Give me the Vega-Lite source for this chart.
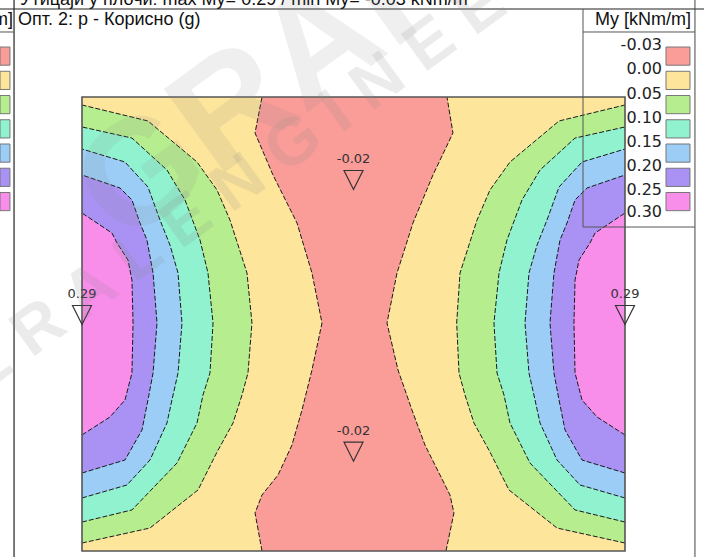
{
  "$schema": "https://vega.github.io/schema/vega-lite/v6.json",
  "width": 543,
  "height": 454,
  "autosize": {"type": "none"},
  "padding": {"left": 82, "top": 97, "right": 79, "bottom": 6},
  "background": "white",
  "config": {"view": {"stroke": null}, "axis": {"disable": true}, "legend": {"disable": true}},
  "datasets": {
    "contours": [
      {"s":"L","lv":0.05,"X":0,"Y":4.912},{"s":"L","lv":0.05,"X":0.729,"Y":4.736},{"s":"L","lv":0.05,"X":1.271,"Y":4.284},{"s":"L","lv":0.05,"X":1.492,"Y":3.976},{"s":"L","lv":0.05,"X":1.635,"Y":3.645},{"s":"L","lv":0.05,"X":1.724,"Y":3.370},{"s":"L","lv":0.05,"X":1.823,"Y":3.062},{"s":"L","lv":0.05,"X":1.878,"Y":2.511},{"s":"L","lv":0.05,"X":1.834,"Y":1.960},{"s":"L","lv":0.05,"X":1.768,"Y":1.718},{"s":"L","lv":0.05,"X":1.669,"Y":1.410},{"s":"L","lv":0.05,"X":1.492,"Y":1.090},{"s":"L","lv":0.05,"X":1.282,"Y":0.672},{"s":"L","lv":0.05,"X":0.751,"Y":0.253},{"s":"L","lv":0.05,"X":0,"Y":0.088},
      {"s":"L","lv":0.10,"X":0,"Y":4.670},{"s":"L","lv":0.10,"X":0.552,"Y":4.548},{"s":"L","lv":0.10,"X":0.939,"Y":4.196},{"s":"L","lv":0.10,"X":1.138,"Y":3.866},{"s":"L","lv":0.10,"X":1.304,"Y":3.425},{"s":"L","lv":0.10,"X":1.392,"Y":3.062},{"s":"L","lv":0.10,"X":1.448,"Y":2.511},{"s":"L","lv":0.10,"X":1.414,"Y":1.960},{"s":"L","lv":0.10,"X":1.337,"Y":1.718},{"s":"L","lv":0.10,"X":1.271,"Y":1.410},{"s":"L","lv":0.10,"X":1.050,"Y":0.969},{"s":"L","lv":0.10,"X":0.552,"Y":0.452},{"s":"L","lv":0.10,"X":0,"Y":0.319},
      {"s":"L","lv":0.15,"X":0,"Y":4.427},{"s":"L","lv":0.15,"X":0.475,"Y":4.284},{"s":"L","lv":0.15,"X":0.729,"Y":4.009},{"s":"L","lv":0.15,"X":0.862,"Y":3.645},{"s":"L","lv":0.15,"X":0.972,"Y":3.370},{"s":"L","lv":0.15,"X":1.061,"Y":3.062},{"s":"L","lv":0.15,"X":1.105,"Y":2.511},{"s":"L","lv":0.15,"X":1.061,"Y":1.960},{"s":"L","lv":0.15,"X":0.994,"Y":1.663},{"s":"L","lv":0.15,"X":0.939,"Y":1.410},{"s":"L","lv":0.15,"X":0.751,"Y":1.002},{"s":"L","lv":0.15,"X":0.497,"Y":0.727},{"s":"L","lv":0.15,"X":0,"Y":0.584},
      {"s":"L","lv":0.20,"X":0,"Y":4.141},{"s":"L","lv":0.20,"X":0.420,"Y":3.998},{"s":"L","lv":0.20,"X":0.552,"Y":3.866},{"s":"L","lv":0.20,"X":0.641,"Y":3.612},{"s":"L","lv":0.20,"X":0.718,"Y":3.425},{"s":"L","lv":0.20,"X":0.785,"Y":3.062},{"s":"L","lv":0.20,"X":0.829,"Y":2.511},{"s":"L","lv":0.20,"X":0.785,"Y":1.960},{"s":"L","lv":0.20,"X":0.729,"Y":1.663},{"s":"L","lv":0.20,"X":0.663,"Y":1.333},{"s":"L","lv":0.20,"X":0.475,"Y":1.002},{"s":"L","lv":0.20,"X":0,"Y":0.859},
      {"s":"L","lv":0.25,"X":0,"Y":3.722},{"s":"L","lv":0.25,"X":0.331,"Y":3.502},{"s":"L","lv":0.25,"X":0.387,"Y":3.392},{"s":"L","lv":0.25,"X":0.508,"Y":3.205},{"s":"L","lv":0.25,"X":0.552,"Y":2.985},{"s":"L","lv":0.25,"X":0.564,"Y":2.511},{"s":"L","lv":0.25,"X":0.552,"Y":1.960},{"s":"L","lv":0.25,"X":0.475,"Y":1.663},{"s":"L","lv":0.25,"X":0.309,"Y":1.476},{"s":"L","lv":0.25,"X":0,"Y":1.278},
      {"s":"R","lv":0.05,"X":6,"Y":4.912},{"s":"R","lv":0.05,"X":5.271,"Y":4.736},{"s":"R","lv":0.05,"X":4.729,"Y":4.284},{"s":"R","lv":0.05,"X":4.508,"Y":3.976},{"s":"R","lv":0.05,"X":4.365,"Y":3.645},{"s":"R","lv":0.05,"X":4.276,"Y":3.370},{"s":"R","lv":0.05,"X":4.177,"Y":3.062},{"s":"R","lv":0.05,"X":4.140,"Y":2.511},{"s":"R","lv":0.05,"X":4.166,"Y":1.960},{"s":"R","lv":0.05,"X":4.232,"Y":1.718},{"s":"R","lv":0.05,"X":4.331,"Y":1.410},{"s":"R","lv":0.05,"X":4.508,"Y":1.090},{"s":"R","lv":0.05,"X":4.718,"Y":0.672},{"s":"R","lv":0.05,"X":5.249,"Y":0.253},{"s":"R","lv":0.05,"X":6,"Y":0.088},
      {"s":"R","lv":0.10,"X":6,"Y":4.670},{"s":"R","lv":0.10,"X":5.448,"Y":4.548},{"s":"R","lv":0.10,"X":5.061,"Y":4.196},{"s":"R","lv":0.10,"X":4.862,"Y":3.866},{"s":"R","lv":0.10,"X":4.696,"Y":3.425},{"s":"R","lv":0.10,"X":4.608,"Y":3.062},{"s":"R","lv":0.10,"X":4.552,"Y":2.511},{"s":"R","lv":0.10,"X":4.586,"Y":1.960},{"s":"R","lv":0.10,"X":4.663,"Y":1.718},{"s":"R","lv":0.10,"X":4.729,"Y":1.410},{"s":"R","lv":0.10,"X":4.950,"Y":0.969},{"s":"R","lv":0.10,"X":5.448,"Y":0.452},{"s":"R","lv":0.10,"X":6,"Y":0.319},
      {"s":"R","lv":0.15,"X":6,"Y":4.427},{"s":"R","lv":0.15,"X":5.525,"Y":4.284},{"s":"R","lv":0.15,"X":5.271,"Y":4.009},{"s":"R","lv":0.15,"X":5.138,"Y":3.645},{"s":"R","lv":0.15,"X":5.028,"Y":3.370},{"s":"R","lv":0.15,"X":4.939,"Y":3.062},{"s":"R","lv":0.15,"X":4.895,"Y":2.511},{"s":"R","lv":0.15,"X":4.939,"Y":1.960},{"s":"R","lv":0.15,"X":5.006,"Y":1.663},{"s":"R","lv":0.15,"X":5.061,"Y":1.410},{"s":"R","lv":0.15,"X":5.249,"Y":1.002},{"s":"R","lv":0.15,"X":5.503,"Y":0.727},{"s":"R","lv":0.15,"X":6,"Y":0.584},
      {"s":"R","lv":0.20,"X":6,"Y":4.141},{"s":"R","lv":0.20,"X":5.580,"Y":3.998},{"s":"R","lv":0.20,"X":5.448,"Y":3.866},{"s":"R","lv":0.20,"X":5.359,"Y":3.612},{"s":"R","lv":0.20,"X":5.282,"Y":3.425},{"s":"R","lv":0.20,"X":5.215,"Y":3.062},{"s":"R","lv":0.20,"X":5.171,"Y":2.511},{"s":"R","lv":0.20,"X":5.215,"Y":1.960},{"s":"R","lv":0.20,"X":5.271,"Y":1.663},{"s":"R","lv":0.20,"X":5.337,"Y":1.333},{"s":"R","lv":0.20,"X":5.525,"Y":1.002},{"s":"R","lv":0.20,"X":6,"Y":0.859},
      {"s":"R","lv":0.25,"X":6,"Y":3.722},{"s":"R","lv":0.25,"X":5.669,"Y":3.502},{"s":"R","lv":0.25,"X":5.613,"Y":3.392},{"s":"R","lv":0.25,"X":5.492,"Y":3.205},{"s":"R","lv":0.25,"X":5.448,"Y":2.985},{"s":"R","lv":0.25,"X":5.436,"Y":2.511},{"s":"R","lv":0.25,"X":5.448,"Y":1.960},{"s":"R","lv":0.25,"X":5.525,"Y":1.663},{"s":"R","lv":0.25,"X":5.691,"Y":1.476},{"s":"R","lv":0.25,"X":6,"Y":1.278}
    ],
    "red": [
      {"Y":5.0,"xl":1.989,"xr":4.033},{"Y":4.604,"xl":1.912,"xr":4.099},{"Y":4.141,"xl":2.110,"xr":3.878},{"Y":3.612,"xl":2.376,"xr":3.657},{"Y":3.062,"xl":2.541,"xr":3.481},{"Y":2.511,"xl":2.652,"xr":3.370},{"Y":1.993,"xl":2.541,"xr":3.492},{"Y":1.553,"xl":2.431,"xr":3.646},{"Y":1.167,"xl":2.320,"xr":3.790},{"Y":0.837,"xl":2.166,"xr":3.956},{"Y":0.617,"xl":1.989,"xr":4.066},{"Y":0.419,"xl":1.912,"xr":4.110},{"Y":0,"xl":1.989,"xr":4.022}
    ],
    "markers": [
      {"X":3.0,"Y":4.086,"v":"-0.02"},{"X":3.0,"Y":1.094,"v":"-0.02"},{"X":0,"Y":2.599,"v":"0.29"},{"X":6,"Y":2.599,"v":"0.29"}
    ],
    "legend": [
      {"t":"-0.03","lo":-0.03,"t2":"0.00"},{"t":"0.00","lo":0,"t2":"0.05"},{"t":"0.05","lo":0.05,"t2":"0.10"},{"t":"0.10","lo":0.10,"t2":"0.15"},{"t":"0.15","lo":0.15,"t2":"0.20"},{"t":"0.20","lo":0.20,"t2":"0.25"},{"t":"0.25","lo":0.25,"t2":"0.30"}
    ]
  },
  "layer": [
    {
      "layer": [
        {
          "data": {"values": [{}]},
          "mark": {"type": "rect", "color": "#FDE59B"},
          "encoding": {
            "x": {"datum": 0, "type": "quantitative", "scale": {"domain": [0, 6], "nice": false, "zero": false}},
            "x2": {"datum": 6},
            "y": {"datum": 0, "type": "quantitative", "scale": {"domain": [0, 5], "nice": false, "zero": false}},
            "y2": {"datum": 5}
          }
        },
        {
          "data": {"name": "contours"},
          "transform": [{"filter": "datum.s === 'L'"}],
          "mark": {"type": "area", "orient": "horizontal", "opacity": 1},
          "encoding": {
            "y": {"field": "Y", "type": "quantitative", "scale": {"domain": [0, 5], "nice": false, "zero": false}},
            "x": {"field": "X", "type": "quantitative", "stack": null, "scale": {"domain": [0, 6], "nice": false, "zero": false}},
            "x2": {"datum": 0},
            "color": {"field": "lv", "type": "quantitative", "scale": {"type": "threshold", "domain": [0, 0.05, 0.1, 0.15, 0.2, 0.25], "range": ["#FA9C98", "#FDE59B", "#B6EE8F", "#90F2CF", "#9BCDF7", "#A992F3", "#F98DEA"]}}
          }
        },
        {
          "data": {"name": "contours"},
          "transform": [{"filter": "datum.s === 'R'"}],
          "mark": {"type": "area", "orient": "horizontal", "opacity": 1},
          "encoding": {
            "y": {"field": "Y", "type": "quantitative", "scale": {"domain": [0, 5], "nice": false, "zero": false}},
            "x": {"field": "X", "type": "quantitative", "stack": null, "scale": {"domain": [0, 6], "nice": false, "zero": false}},
            "x2": {"datum": 6},
            "color": {"field": "lv", "type": "quantitative", "scale": {"type": "threshold", "domain": [0, 0.05, 0.1, 0.15, 0.2, 0.25], "range": ["#FA9C98", "#FDE59B", "#B6EE8F", "#90F2CF", "#9BCDF7", "#A992F3", "#F98DEA"]}}
          }
        },
        {
          "data": {"name": "red"},
          "mark": {"type": "area", "orient": "horizontal", "color": "#FA9C98", "opacity": 1},
          "encoding": {
            "y": {"field": "Y", "type": "quantitative", "scale": {"domain": [0, 5], "nice": false, "zero": false}},
            "x": {"field": "xl", "type": "quantitative", "stack": null, "scale": {"domain": [0, 6], "nice": false, "zero": false}},
            "x2": {"field": "xr"}
          }
        },
        {
          "data": {"name": "contours"},
          "mark": {"type": "line", "color": "#1a1a1a", "strokeWidth": 1, "strokeDash": [5, 2]},
          "encoding": {
            "y": {"field": "Y", "type": "quantitative", "scale": {"domain": [0, 5], "nice": false, "zero": false}},
            "x": {"field": "X", "type": "quantitative", "scale": {"domain": [0, 6], "nice": false, "zero": false}},
            "detail": [{"field": "s"}, {"field": "lv"}],
            "order": {"field": "Y", "type": "quantitative"}
          }
        },
        {
          "data": {"name": "red"},
          "mark": {"type": "line", "color": "#1a1a1a", "strokeWidth": 1, "strokeDash": [5, 2]},
          "encoding": {
            "y": {"field": "Y", "type": "quantitative", "scale": {"domain": [0, 5], "nice": false, "zero": false}},
            "x": {"field": "xl", "type": "quantitative", "scale": {"domain": [0, 6], "nice": false, "zero": false}},
            "order": {"field": "Y", "type": "quantitative"}
          }
        },
        {
          "data": {"name": "red"},
          "mark": {"type": "line", "color": "#1a1a1a", "strokeWidth": 1, "strokeDash": [5, 2]},
          "encoding": {
            "y": {"field": "Y", "type": "quantitative", "scale": {"domain": [0, 5], "nice": false, "zero": false}},
            "x": {"field": "xr", "type": "quantitative", "scale": {"domain": [0, 6], "nice": false, "zero": false}},
            "order": {"field": "Y", "type": "quantitative"}
          }
        },
        {
          "data": {"values": [{}]},
          "mark": {"type": "rect", "fillOpacity": 0, "stroke": "#555555", "strokeWidth": 1.6},
          "encoding": {
            "x": {"datum": 0, "type": "quantitative", "scale": {"domain": [0, 6], "nice": false, "zero": false}},
            "x2": {"datum": 6},
            "y": {"datum": 0, "type": "quantitative", "scale": {"domain": [0, 5], "nice": false, "zero": false}},
            "y2": {"datum": 5}
          }
        },
        {
          "data": {"name": "markers"},
          "mark": {"type": "point", "shape": "M-1,-1L1,-1L0,1Z", "size": 361, "filled": false, "stroke": "#333333", "strokeWidth": 1.2, "opacity": 1},
          "encoding": {
            "y": {"field": "Y", "type": "quantitative", "scale": {"domain": [0, 5], "nice": false, "zero": false}},
            "x": {"field": "X", "type": "quantitative", "scale": {"domain": [0, 6], "nice": false, "zero": false}}
          }
        },
        {
          "data": {"name": "markers"},
          "mark": {"type": "text", "font": "DejaVu Sans", "fontSize": 13, "color": "#333333", "baseline": "middle", "align": "center", "dy": -21},
          "encoding": {
            "y": {"field": "Y", "type": "quantitative", "scale": {"domain": [0, 5], "nice": false, "zero": false}},
            "x": {"field": "X", "type": "quantitative", "scale": {"domain": [0, 6], "nice": false, "zero": false}},
            "text": {"field": "v"}
          }
        },
        {
          "data": {"values": [{}]},
          "mark": {"type": "rule", "color": "#222222", "strokeWidth": 1.2},
          "encoding": {
            "x": {"datum": -0.906, "type": "quantitative", "scale": {"domain": [0, 6], "nice": false, "zero": false}},
            "x2": {"datum": 6.873},
            "y": {"datum": 5.969, "type": "quantitative", "scale": {"domain": [0, 5], "nice": false, "zero": false}}
          }
        },
        {
          "data": {"values": [{}]},
          "mark": {"type": "rule", "color": "#222222", "strokeWidth": 1.2},
          "encoding": {
            "x": {"datum": -0.751, "type": "quantitative", "scale": {"domain": [0, 6], "nice": false, "zero": false}},
            "y": {"datum": 6.068, "type": "quantitative", "scale": {"domain": [0, 5], "nice": false, "zero": false}},
            "y2": {"datum": -0.066}
          }
        },
        {
          "data": {"values": [{}]},
          "mark": {"type": "rule", "color": "#444444", "strokeWidth": 1},
          "encoding": {
            "x": {"datum": 6.773, "type": "quantitative", "scale": {"domain": [0, 6], "nice": false, "zero": false}},
            "y": {"datum": 6.068, "type": "quantitative", "scale": {"domain": [0, 5], "nice": false, "zero": false}},
            "y2": {"datum": -0.066}
          }
        },
        {
          "data": {"values": [{}]},
          "mark": {"type": "rule", "color": "#555555", "strokeWidth": 1},
          "encoding": {
            "x": {"datum": 5.536, "type": "quantitative", "scale": {"domain": [0, 6], "nice": false, "zero": false}},
            "y": {"datum": 5.969, "type": "quantitative", "scale": {"domain": [0, 5], "nice": false, "zero": false}},
            "y2": {"datum": 3.568}
          }
        },
        {
          "data": {"values": [{}]},
          "mark": {"type": "rule", "color": "#555555", "strokeWidth": 1},
          "encoding": {
            "x": {"datum": 5.536, "type": "quantitative", "scale": {"domain": [0, 6], "nice": false, "zero": false}},
            "x2": {"datum": 6.773},
            "y": {"datum": 5.716, "type": "quantitative", "scale": {"domain": [0, 5], "nice": false, "zero": false}}
          }
        },
        {
          "data": {"values": [{}]},
          "mark": {"type": "rule", "color": "#555555", "strokeWidth": 1},
          "encoding": {
            "x": {"datum": 5.536, "type": "quantitative", "scale": {"domain": [0, 6], "nice": false, "zero": false}},
            "x2": {"datum": 6.773},
            "y": {"datum": 3.568, "type": "quantitative", "scale": {"domain": [0, 5], "nice": false, "zero": false}}
          }
        },
        {
          "data": {"values": [{}]},
          "mark": {"type": "rule", "color": "#555555", "strokeWidth": 1},
          "encoding": {
            "x": {"datum": -0.906, "type": "quantitative", "scale": {"domain": [0, 6], "nice": false, "zero": false}},
            "x2": {"datum": -0.751},
            "y": {"datum": 5.716, "type": "quantitative", "scale": {"domain": [0, 5], "nice": false, "zero": false}}
          }
        },
        {
          "data": {"values": [{}]},
          "mark": {"type": "text", "text": "Утицаји у плочи: max My= 0.29 / min My= -0.03 kNm/m", "font": "Liberation Sans", "fontSize": 18, "color": "#111111", "align": "left", "baseline": "alphabetic"},
          "encoding": {
            "x": {"datum": -0.685, "type": "quantitative", "scale": {"domain": [0, 6], "nice": false, "zero": false}},
            "y": {"datum": 6.013, "type": "quantitative", "scale": {"domain": [0, 5], "nice": false, "zero": false}}
          }
        },
        {
          "data": {"values": [{}]},
          "mark": {"type": "text", "text": "Опт. 2: p - Корисно (g)", "font": "Liberation Sans", "fontSize": 18, "color": "#111111", "align": "left", "baseline": "alphabetic"},
          "encoding": {
            "x": {"datum": -0.707, "type": "quantitative", "scale": {"domain": [0, 6], "nice": false, "zero": false}},
            "y": {"datum": 5.793, "type": "quantitative", "scale": {"domain": [0, 5], "nice": false, "zero": false}}
          }
        },
        {
          "data": {"values": [{}]},
          "mark": {"type": "text", "text": "m]", "font": "Liberation Sans", "fontSize": 18, "color": "#111111", "align": "right", "baseline": "alphabetic"},
          "encoding": {
            "x": {"datum": -0.762, "type": "quantitative", "scale": {"domain": [0, 6], "nice": false, "zero": false}},
            "y": {"datum": 5.793, "type": "quantitative", "scale": {"domain": [0, 5], "nice": false, "zero": false}}
          }
        },
        {
          "data": {"values": [{}]},
          "mark": {"type": "text", "text": "My [kNm/m]", "font": "Liberation Sans", "fontSize": 18, "color": "#111111", "align": "right", "baseline": "alphabetic"},
          "encoding": {
            "x": {"datum": 6.729, "type": "quantitative", "scale": {"domain": [0, 6], "nice": false, "zero": false}},
            "y": {"datum": 5.793, "type": "quantitative", "scale": {"domain": [0, 5], "nice": false, "zero": false}}
          }
        },
        {
          "data": {"values": [{}]},
          "mark": {"type": "text", "text": "G E N E R A L   E N G I N E E R I N G", "font": "Liberation Sans", "fontSize": 66, "fontWeight": "bold", "color": "#8a8a8a", "opacity": 0.16, "align": "center", "baseline": "middle", "angle": -36},
          "encoding": {
            "x": {"datum": 1.856, "type": "quantitative", "scale": {"domain": [0, 6], "nice": false, "zero": false}},
            "y": {"datum": 4.141, "type": "quantitative", "scale": {"domain": [0, 5], "nice": false, "zero": false}}
          }
        },
        {
          "data": {"values": [{}]},
          "mark": {"type": "text", "text": "GRAITEC", "font": "Liberation Sans", "fontSize": 150, "fontWeight": "bold", "color": "#8a8a8a", "opacity": 0.13, "align": "left", "baseline": "middle", "angle": -36},
          "encoding": {
            "x": {"datum": 0.15, "type": "quantitative", "scale": {"domain": [0, 6], "nice": false, "zero": false}},
            "y": {"datum": 3.75, "type": "quantitative", "scale": {"domain": [0, 5], "nice": false, "zero": false}}
          }
        }
      ]
    },
    {
      "data": {"name": "legend"},
      "layer": [
        {
          "mark": {"type": "rect", "stroke": "#777777", "strokeWidth": 1},
          "encoding": {
            "x": {"datum": 6.453, "type": "quantitative", "scale": {"domain": [0, 6], "nice": false, "zero": false}},
            "x2": {"datum": 6.718},
            "y": {"field": "t", "type": "nominal", "sort": null, "scale": {"type": "band", "range": [-53, 116.7], "paddingInner": 0.25, "paddingOuter": 0.125}},
            "color": {"field": "lo", "type": "quantitative", "scale": {"type": "threshold", "domain": [0, 0.05, 0.1, 0.15, 0.2, 0.25], "range": ["#FA9C98", "#FDE59B", "#B6EE8F", "#90F2CF", "#9BCDF7", "#A992F3", "#F98DEA"]}}
          }
        },
        {
          "mark": {"type": "rect", "stroke": "#777777", "strokeWidth": 1},
          "encoding": {
            "x": {"datum": -0.906, "type": "quantitative", "scale": {"domain": [0, 6], "nice": false, "zero": false}},
            "x2": {"datum": -0.796},
            "y": {"field": "t", "type": "nominal", "sort": null, "scale": {"type": "band", "range": [-53, 116.7], "paddingInner": 0.25, "paddingOuter": 0.125}},
            "color": {"field": "lo", "type": "quantitative", "scale": {"type": "threshold", "domain": [0, 0.05, 0.1, 0.15, 0.2, 0.25], "range": ["#FA9C98", "#FDE59B", "#B6EE8F", "#90F2CF", "#9BCDF7", "#A992F3", "#F98DEA"]}}
          }
        },
        {
          "mark": {"type": "text", "font": "DejaVu Sans", "fontSize": 16, "color": "#222222", "align": "right", "baseline": "middle", "dy": -2},
          "encoding": {
            "x": {"datum": 6.409, "type": "quantitative", "scale": {"domain": [0, 6], "nice": false, "zero": false}},
            "y": {"field": "t", "type": "nominal", "sort": null, "bandPosition": 0, "scale": {"type": "band", "range": [-53, 116.7], "paddingInner": 0.25, "paddingOuter": 0.125}},
            "text": {"field": "t"}
          }
        },
        {
          "transform": [{"filter": "datum.lo === 0.25"}],
          "mark": {"type": "text", "font": "DejaVu Sans", "fontSize": 16, "color": "#222222", "align": "right", "baseline": "middle", "dy": 1},
          "encoding": {
            "x": {"datum": 6.409, "type": "quantitative", "scale": {"domain": [0, 6], "nice": false, "zero": false}},
            "y": {"field": "t", "type": "nominal", "sort": null, "bandPosition": 1, "scale": {"type": "band", "range": [-53, 116.7], "paddingInner": 0.25, "paddingOuter": 0.125}},
            "text": {"field": "t2"}
          }
        }
      ]
    }
  ],
  "resolve": {"scale": {"y": "independent"}}
}
